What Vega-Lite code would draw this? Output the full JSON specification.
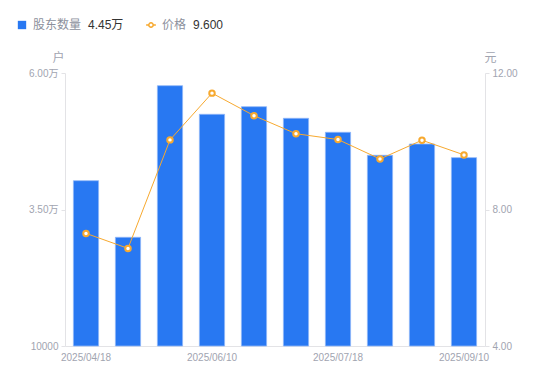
{
  "$schema": "https://vega.github.io/schema/vega-lite/v6.json",
  "width": 420,
  "height": 273,
  "autosize": {"type": "none"},
  "padding": {"left": 65, "top": 73, "right": 65, "bottom": 35},
  "background": "#ffffff",
  "config": {
    "view": {"stroke": null},
    "font": "Liberation Sans, Noto Sans CJK SC, sans-serif",
    "axis": {
      "grid": false,
      "domainColor": "#e3e3e6",
      "tickColor": "#e3e3e6",
      "labelColor": "#a1a4b0",
      "labelFontSize": 10,
      "titleColor": "#a1a4b0",
      "titleFontWeight": "normal",
      "titleFontSize": 12
    },
    "legend": {
      "labelColor": "#8c909c",
      "labelFontSize": 12,
      "titleColor": "#333333",
      "titleFontSize": 12,
      "titleFontWeight": "normal"
    }
  },
  "data": {
    "values": [
      {"date": "2025/04/18", "holders": 40275, "price": 7.30},
      {"date": "2025/04/30", "holders": 29908, "price": 6.86},
      {"date": "2025/05/20", "holders": 57674, "price": 10.04},
      {"date": "2025/06/10", "holders": 52436, "price": 11.41},
      {"date": "2025/06/20", "holders": 53828, "price": 10.75},
      {"date": "2025/06/30", "holders": 51703, "price": 10.22},
      {"date": "2025/07/18", "holders": 49139, "price": 10.05},
      {"date": "2025/07/31", "holders": 44927, "price": 9.48},
      {"date": "2025/08/20", "holders": 46996, "price": 10.03},
      {"date": "2025/09/10", "holders": 44500, "price": 9.60}
    ]
  },
  "encoding": {
    "x": {
      "field": "date",
      "type": "nominal",
      "sort": null,
      "scale": {"paddingInner": 0.4, "paddingOuter": 0.2},
      "axis": {
        "title": null,
        "labelAngle": 0,
        "ticks": false,
        "labelPadding": 6,
        "values": ["2025/04/18", "2025/06/10", "2025/07/18", "2025/09/10"]
      }
    }
  },
  "layer": [
    {
      "mark": {"type": "bar", "stroke": "#8fb6f7", "strokeWidth": 1, "strokeOpacity": 0.8},
      "encoding": {
        "y": {
          "field": "holders",
          "type": "quantitative",
          "scale": {"domain": [10000, 60000], "zero": false, "nice": false},
          "axis": {
            "orient": "left",
            "title": "户",
            "titleAngle": 0,
            "titleX": -7,
            "titleY": -16,
            "titleAlign": "center",
            "titleBaseline": "middle",
            "values": [10000, 35000, 60000],
            "tickSize": 4,
            "labelPadding": 3,
            "labelExpr": "datum.value >= 20000 ? format(datum.value / 10000, '.2f') + '万' : format(datum.value, 'd')"
          }
        },
        "y2": {"datum": 10000},
        "fill": {
          "datum": "股东数量",
          "scale": {"range": ["#2878f2"]},
          "legend": {
            "orient": "none",
            "legendX": -49,
            "legendY": -54,
            "title": "4.45万",
            "titleOrient": "right",
            "titlePadding": 7,
            "titleBaseline": "middle",
            "symbolType": "square",
            "symbolSize": 70,
            "symbolStrokeWidth": 0,
            "labelOffset": 5
          }
        }
      }
    },
    {
      "mark": {
        "type": "line",
        "strokeWidth": 1,
        "point": {"filled": false, "fill": "#ffffff", "size": 30, "strokeWidth": 2}
      },
      "encoding": {
        "y": {
          "field": "price",
          "type": "quantitative",
          "scale": {"domain": [4, 12], "zero": false, "nice": false},
          "axis": {
            "orient": "right",
            "title": "元",
            "titleAngle": 0,
            "titleX": 5,
            "titleY": -16,
            "titleAlign": "center",
            "titleBaseline": "middle",
            "values": [4, 8, 12],
            "format": ".2f",
            "tickSize": 4,
            "labelPadding": 3
          }
        },
        "stroke": {
          "datum": "价格",
          "scale": {"range": ["#f7a92f"]},
          "legend": {
            "orient": "none",
            "legendX": 80,
            "legendY": -54,
            "title": "9.600",
            "titleOrient": "right",
            "titlePadding": 7,
            "titleBaseline": "middle",
            "symbolType": "M-1,0L-0.45,0M0.45,0L1,0M-0.45,0A0.45,0.45,0,1,1,0.45,0A0.45,0.45,0,1,1,-0.45,0Z",
            "symbolSize": 95,
            "symbolStrokeWidth": 1.5,
            "symbolFillColor": "#ffffff",
            "labelOffset": 5
          }
        }
      }
    }
  ],
  "resolve": {"scale": {"y": "independent", "fill": "independent", "stroke": "independent"}}
}
